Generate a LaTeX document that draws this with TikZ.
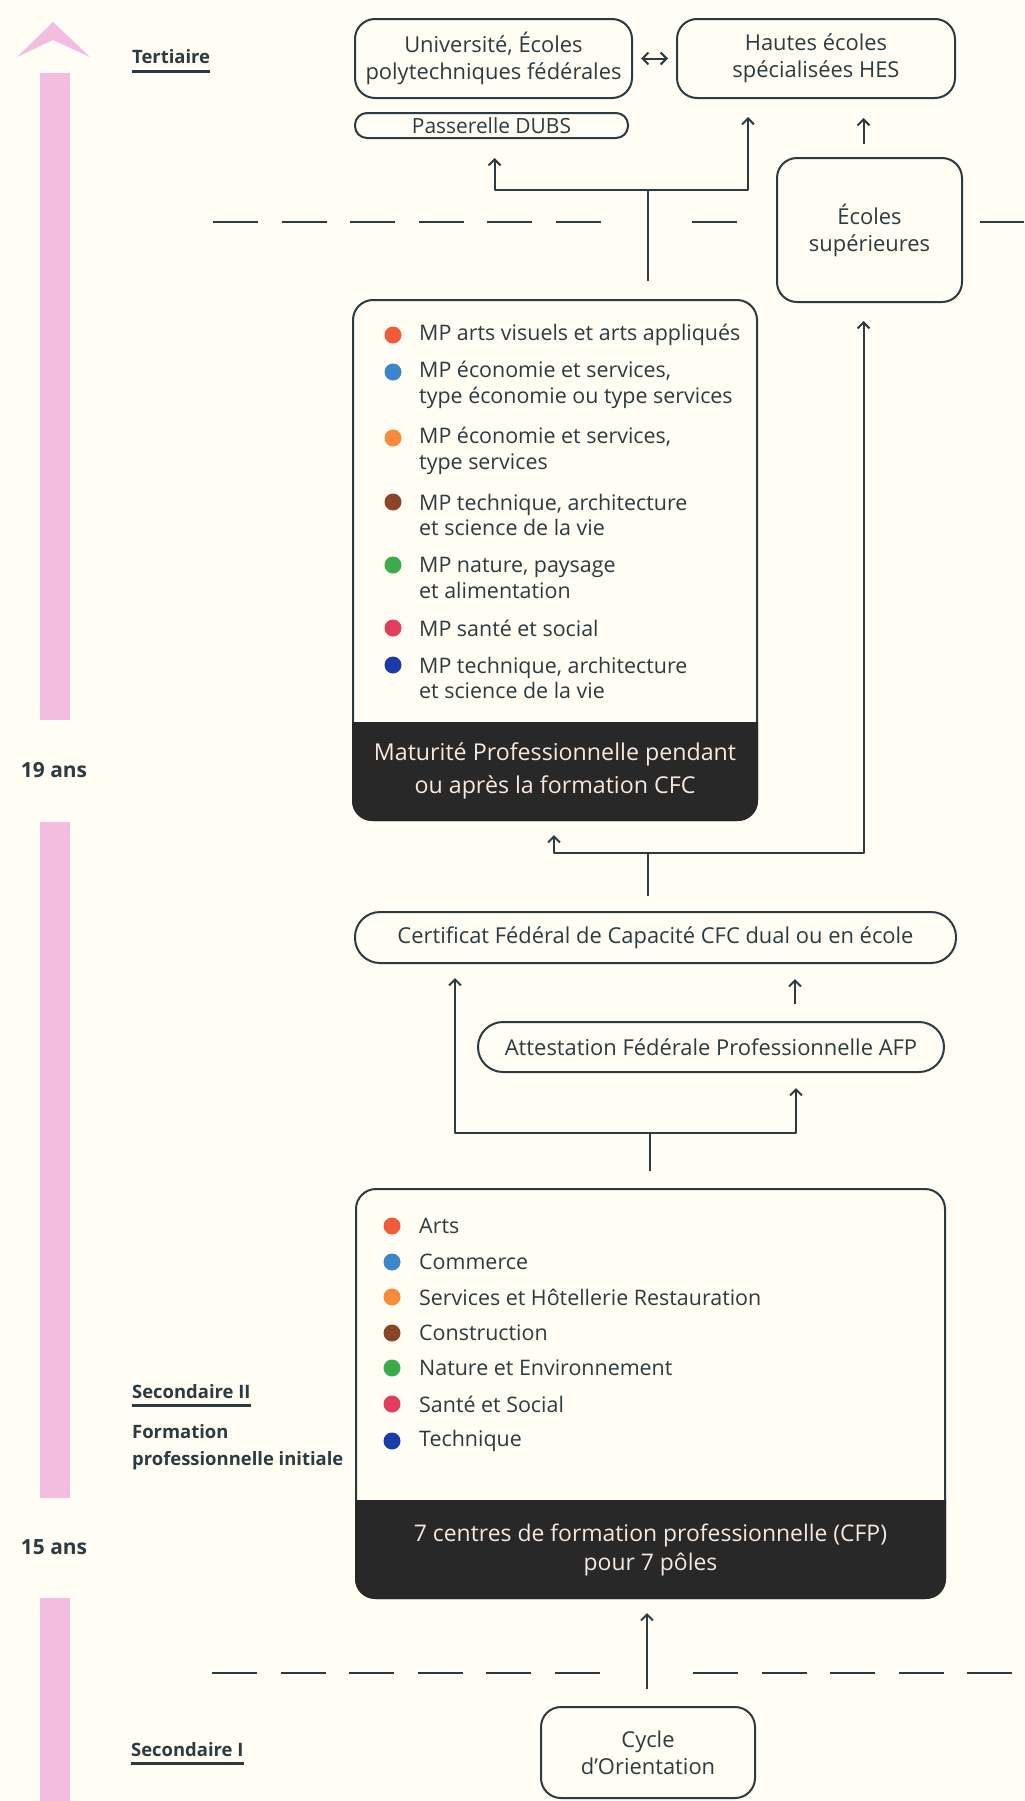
\documentclass[tikz,border=0pt]{standalone}
\usepackage{fontspec}
\setmainfont{Open Sans}
\usetikzlibrary{arrows.meta}
\definecolor{paper}{HTML}{FFFDF4}
\definecolor{ink}{HTML}{2C3B3F}
\definecolor{darkbox}{HTML}{282828}
\definecolor{lighttext}{HTML}{F7E9DF}
\definecolor{agebar}{HTML}{F3BDE0}
\definecolor{polearts}{HTML}{F25A3A}
\definecolor{polecommerce}{HTML}{3B86C9}
\definecolor{poleservices}{HTML}{F88B3A}
\definecolor{poleconstruction}{HTML}{8A4526}
\definecolor{polenature}{HTML}{3DAA4B}
\definecolor{polesante}{HTML}{E23D5C}
\definecolor{poletechnique}{HTML}{1B3CA8}
\begin{document}
\begin{tikzpicture}[x=1bp,y=-1bp,>={Straight Barb[length=6bp,width=12bp]},line join=bevel,
  frame/.style={draw=ink, line width=2bp, rounded corners=20bp, inner sep=0pt, align=center, text=ink, font=\fontsize{22}{27}\selectfont},
  pill/.style={frame, rounded corners=12bp},
  conn/.style={draw=ink, line width=2bp},
  stageline/.style={draw=ink, line width=2.5bp, dash pattern=on 45bp off 23.5bp},
  dot/.style={circle, inner sep=0pt, minimum size=17bp},
  entry/.style={anchor=west, align=left, inner sep=0pt, text=ink, font=\fontsize{21.5}{26}\selectfont},
  band/.style={align=center, inner sep=0pt, text=lighttext, font=\fontsize{23.3}{33}\selectfont},
  level/.style={anchor=west, align=left, inner sep=0pt, text=ink, font=\bfseries\fontsize{18.5}{27}\selectfont},
  age/.style={inner sep=0pt, text=ink, font=\bfseries\fontsize{21}{24}\selectfont}]
%%
\fill[paper] (0,0) rectangle (1024,1801);
\useasboundingbox (0,0) rectangle (1024,1801);
%% age bar
\fill[agebar] (53,22) -- (90,57) -- (53,40) -- (17,57) -- cycle;
\fill[agebar] (40,73) rectangle (70,720);
\fill[agebar] (40,822) rectangle (70,1498);
\fill[agebar] (40,1598) rectangle (70,1801);
\node[age] (age19) at (54,770) {19 ans};
\node[age] (age15) at (54,1547) {15 ans};
%% levels
\node[level] (tert) at (132,57) {Tertiaire};
\draw[ink, line width=2.5bp] ([yshift=-7bp]tert.south west) -- ([yshift=-7bp]tert.south east);
\node[level] (sec2) at (132,1392) {Secondaire II};
\draw[ink, line width=2.5bp] ([yshift=-6bp]sec2.south west) -- ([yshift=-6bp]sec2.south east);
\node[level] (fpi) at (132,1447) {Formation\\professionnelle initiale};
\node[level] (sec1) at (131,1750) {Secondaire I};
\draw[ink, line width=2.5bp] ([yshift=-6bp]sec1.south west) -- ([yshift=-6bp]sec1.south east);
%% stage limits
\draw[stageline] (213,222) -- (601,222);
\draw[stageline] (692,222) -- (737,222);
\draw[stageline] (980,222) -- (1024,222);
\draw[stageline] (212,1673) -- (602,1673);
\draw[stageline] (693,1673) -- (1024,1673);
%% tertiaire
  % Node: uni
\node[frame, minimum width=277bp, minimum height=79bp] (uni) at (493.5,58.5) {Université, Écoles\\polytechniques fédérales};
  % Node: hes
\node[frame, minimum width=278bp, minimum height=79bp] (hes) at (816,58.5) {Hautes écoles\\spécialisées HES};
  % Node: dubs
\node[pill, minimum width=273bp, minimum height=25bp, font=\fontsize{21}{22}\selectfont] (dubs) at (491.5,125.5) {Passerelle DUBS};
  % Node: ecsup
\node[frame, minimum width=185bp, minimum height=144bp] (ecsup) at (869.5,230) {Écoles\\supérieures};
%% maturite professionnelle
  % Node: mp
\node[frame, minimum width=404bp, minimum height=520bp] (mp) at (555,560) {};
\begin{scope}
  \clip[rounded corners=20bp] (mp.north west) rectangle (mp.south east);
  \fill[darkbox] (340,722) rectangle (770,830);
\end{scope}
\node[band] (mpfoot) at (555,771) {Maturité Professionnelle pendant\\ou après la formation CFC};
\node[dot, fill=polearts] (mpdot1) at (393,335) {};
\node[entry] (mpitem1) at (419,335) {MP arts visuels et arts appliqués};
\node[dot, fill=polecommerce] (mpdot2) at (393,372) {};
\node[entry] (mpitem2) at (419,385) {MP économie et services,\\type économie ou type services};
\node[dot, fill=poleservices] (mpdot3) at (393,438) {};
\node[entry] (mpitem3) at (419,451) {MP économie et services,\\type services};
\node[dot, fill=poleconstruction] (mpdot4) at (393,502) {};
\node[entry] (mpitem4) at (419,515) {MP technique, architecture\\et science de la vie};
\node[dot, fill=polenature] (mpdot5) at (393,565) {};
\node[entry] (mpitem5) at (419,578) {MP nature, paysage\\et alimentation};
\node[dot, fill=polesante] (mpdot6) at (393,628) {};
\node[entry] (mpitem6) at (419,628) {MP santé et social};
\node[dot, fill=poletechnique] (mpdot7) at (393,665) {};
\node[entry] (mpitem7) at (419,678) {MP technique, architecture\\et science de la vie};
%% certificats
  % Node: cfc
\node[frame, rounded corners=25bp, minimum width=601bp, minimum height=51bp] (cfc) at (655.5,937.5) {Certificat Fédéral de Capacité CFC dual ou en école};
  % Node: afp
\node[frame, rounded corners=25bp, minimum width=466bp, minimum height=50bp] (afp) at (711,1047) {Attestation Fédérale Professionnelle AFP};
%% centres de formation professionnelle
  % Node: cfp
\node[frame, minimum width=589bp, minimum height=409bp] (cfp) at (650.5,1393.5) {};
\begin{scope}
  \clip[rounded corners=20bp] (cfp.north west) rectangle (cfp.south east);
  \fill[darkbox] (340,1500) rectangle (960,1610);
\end{scope}
\node[band, font=\fontsize{23}{30}\selectfont] (cfpfoot) at (650.5,1550) {7 centres de formation professionnelle (CFP)\\pour 7 pôles};
\node[dot, fill=polearts] (cfpdot1) at (392,1226) {};
\node[entry] (cfpitem1) at (419,1226) {Arts};
\node[dot, fill=polecommerce] (cfpdot2) at (392,1262) {};
\node[entry] (cfpitem2) at (419,1262) {Commerce};
\node[dot, fill=poleservices] (cfpdot3) at (392,1297) {};
\node[entry] (cfpitem3) at (419,1297) {Services et Hôtellerie Restauration};
\node[dot, fill=poleconstruction] (cfpdot4) at (392,1333) {};
\node[entry] (cfpitem4) at (419,1333) {Construction};
\node[dot, fill=polenature] (cfpdot5) at (392,1368) {};
\node[entry] (cfpitem5) at (419,1368) {Nature et Environnement};
\node[dot, fill=polesante] (cfpdot6) at (392,1404) {};
\node[entry] (cfpitem6) at (419,1404) {Santé et Social};
\node[dot, fill=poletechnique] (cfpdot7) at (392,1441) {};
\node[entry] (cfpitem7) at (419,1441) {Technique};
%% secondaire I
  % Node: co
\node[frame, minimum width=214bp, minimum height=91bp] (co) at (648,1752.5) {Cycle\\d’Orientation};
%% edges
\coordinate (mpsplit) at (648,190);
\coordinate (cfcsplit) at (648,853);
\coordinate (cfpsplit) at (650,1133);
  % Edge: uni -- hes
\draw[conn, <->, shorten <=8bp, shorten >=8bp] (uni.east) -- (hes.west);
  % Edge: mp -- dubs, hes
\draw[conn, shorten <=18bp] (mp.north -| mpsplit) -- (mpsplit);
\draw[conn, ->, shorten >=19bp] (mpsplit) -| ([xshift=3bp]dubs.south);
\draw[conn, ->, shorten >=18bp] (mpsplit) -| ([xshift=-68bp]hes.south);
  % Edge: ecsup -- hes
\draw[conn, ->, shorten <=13bp, shorten >=19bp] ([xshift=-6bp]ecsup.north) -- ([xshift=-6bp]ecsup.north |- hes.south);
  % Edge: cfc -- mp, ecsup
\draw[conn, shorten <=15bp] (cfc.north -| cfcsplit) -- (cfcsplit);
\draw[conn, ->, shorten >=15bp] (cfcsplit) -| (554,820);
\draw[conn, ->, shorten >=18bp] (cfcsplit) -| ([xshift=-6bp]ecsup.south);
  % Edge: cfp -- cfc, afp
\draw[conn, shorten <=17bp] (cfp.north -| cfpsplit) -- (cfpsplit);
\draw[conn, ->, shorten >=15bp] (cfpsplit) -| (455,963);
\draw[conn, ->, shorten >=16bp] (cfpsplit) -| (796,1072);
  % Edge: afp -- cfc
\draw[conn, ->, shorten <=17bp, shorten >=15bp] (afp.north -| 795,0) -- (cfc.south -| 795,0);
  % Edge: co -- cfp
\draw[conn, ->, shorten <=17bp, shorten >=14bp] (co.north -| 647,0) -- (cfp.south -| 647,0);
%
\end{tikzpicture}
\end{document}
